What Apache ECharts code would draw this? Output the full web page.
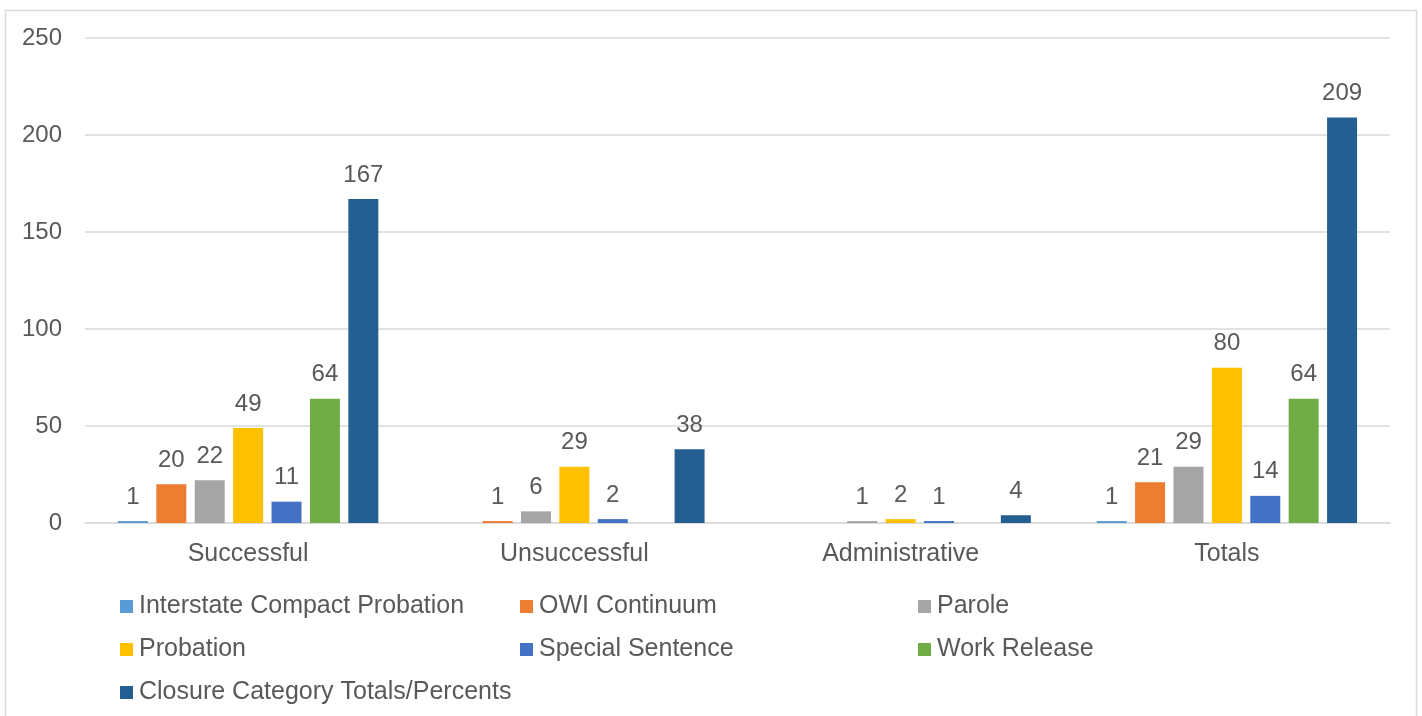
<!DOCTYPE html>
<html>
<head>
<meta charset="utf-8">
<script src="https://cdn.jsdelivr.net/npm/echarts@6/dist/echarts.min.js"></script>
<style>
  html, body { margin: 0; padding: 0; background: #fff; }
  #chart { width: 1422px; height: 716px; }
</style>
</head>
<body>
<div id="chart"></div>
<script>
// Closure categories along the x axis
const categories = ['Successful', 'Unsuccessful', 'Administrative', 'Totals'];

// Closures per supervision type (null = no closures in that category)
const interstateCompact = [1, null, null, 1];
const owiContinuum      = [20, 1, null, 21];
const parole            = [22, 6, 1, 29];
const probation         = [49, 29, 2, 80];
const specialSentence   = [11, 2, 1, 14];
const workRelease       = [64, null, null, 64];
const closureTotals     = [167, 38, 4, 209];

const seriesNames = [
  'Interstate Compact Probation', 'OWI Continuum', 'Parole',
  'Probation', 'Special Sentence', 'Work Release',
  'Closure Category Totals/Percents'
];
const seriesValues = [
  interstateCompact, owiContinuum, parole,
  probation, specialSentence, workRelease, closureTotals
];
const colors = ['#5B9BD5', '#ED7D31', '#A5A5A5', '#FFC000', '#4472C4', '#70AD47', '#255E91'];

const FONT = '"Liberation Sans", Arial, sans-serif';
const TEXT = '#595959';
const FS = 24;      // numbers: value labels and y axis
const FS_TEXT = 25; // words: category labels and legend

const chart = echarts.init(document.getElementById('chart'), null, { renderer: 'canvas' });

const legendBase = {
  orient: 'vertical',
  top: 594,
  itemWidth: 13,
  itemHeight: 13,
  itemGap: 18,
  icon: 'rect',
  textStyle: { fontFamily: FONT, fontSize: FS_TEXT, color: TEXT, lineHeight: 25, padding: [0, 0, 0, 1] },
  padding: 0,
  selectedMode: false
};

chart.setOption({
  animation: false,
  color: colors,
  textStyle: { fontFamily: FONT },
  graphic: [{
    type: 'rect',
    shape: { x: 5.5, y: 10.5, width: 1411, height: 720 },
    style: { fill: 'none', stroke: '#D9D9D9', lineWidth: 1.5 },
    silent: true
  }],
  grid: { left: 85, right: 32, top: 38, bottom: 193, containLabel: false },
  legend: [
    Object.assign({}, legendBase, { left: 120, data: [seriesNames[0], seriesNames[3], seriesNames[6]] }),
    Object.assign({}, legendBase, { left: 520, data: [seriesNames[1], seriesNames[4]] }),
    Object.assign({}, legendBase, { left: 918, data: [seriesNames[2], seriesNames[5]] })
  ],
  xAxis: {
    type: 'category',
    data: categories,
    axisLine: { lineStyle: { color: '#D9D9D9', width: 1.5 } },
    axisTick: { show: false },
    axisLabel: { fontFamily: FONT, fontSize: FS_TEXT, color: TEXT, margin: 19 }
  },
  yAxis: {
    type: 'value',
    min: 0,
    max: 250,
    interval: 50,
    axisLine: { show: false },
    axisTick: { show: false },
    axisLabel: { fontFamily: FONT, fontSize: FS, color: TEXT, margin: 23 },
    splitLine: { lineStyle: { color: '#D9D9D9', width: 1.5 } }
  },
  series: seriesNames.map((name, i) => ({
    name: name,
    type: 'bar',
    data: seriesValues[i],
    barWidth: 30,
    barGap: '28%',
    itemStyle: { color: colors[i] },
    label: {
      show: true,
      position: 'top',
      distance: 12,
      fontFamily: FONT,
      fontSize: FS,
      color: TEXT
    }
  }))
});
</script>
</body>
</html>
